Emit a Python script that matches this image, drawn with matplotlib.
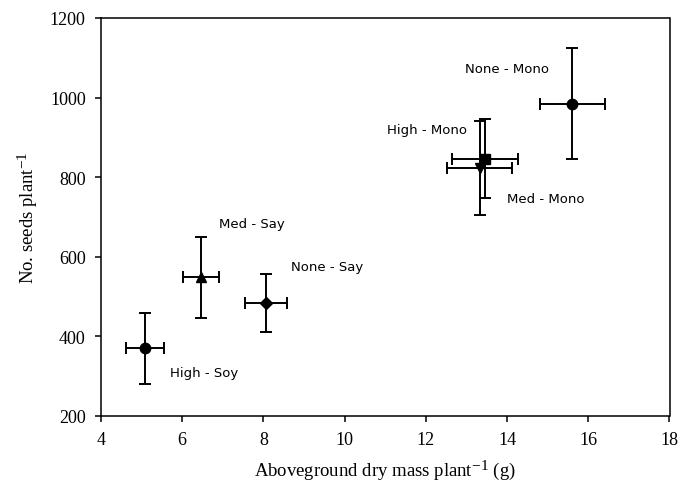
import matplotlib as mpl
mpl.use("Agg")
import matplotlib.pyplot as plt
import matplotlib._mathtext as mathtext_internal

mpl.rcParams.update({
    "font.family": "serif",
    "font.serif": ["Liberation Serif", "DejaVu Serif"],
    "mathtext.fontset": "custom",
    "mathtext.rm": "Liberation Serif",
    "mathtext.it": "Liberation Serif:italic",
    "font.size": 13,
    "axes.linewidth": 1.1,
})
# the original draws the "-1" superscripts nearly full size
mathtext_internal.SHRINK_FACTOR = 0.82

# treatment labels, means and standard errors
labels = ["High - Soy", "Med - Say", "None - Say", "None - Mono", "High - Mono", "Med - Mono"]
dry_mass = [5.08, 6.46, 8.06, 15.61, 13.46, 13.33]
dry_mass_err = [0.47, 0.45, 0.52, 0.79, 0.82, 0.80]
seeds = [370, 548, 484, 985, 846, 823]
seeds_err = [90, 101, 74, 140, 99, 118]
markers = ["o", "^", "D", "o", "s", "v"]
marker_sizes = [7.5, 7, 6.5, 7.5, 7, 7.5]
# label offsets from the point, in pixels
label_offsets = [(59, -24), (51, 54), (61, 36), (-65, 35), (-58, 29), (66, -30)]

fig = plt.figure(figsize=(6.78, 4.89), dpi=100)
ax = fig.add_axes([101 / 678, 1 - 417 / 489, 568.5 / 678, 398 / 489])

for i in range(len(labels)):
    ax.errorbar(dry_mass[i], seeds[i], xerr=dry_mass_err[i], yerr=seeds_err[i],
                fmt=markers[i], color="black", markersize=marker_sizes[i],
                ecolor="black", elinewidth=1.4, capsize=4.5, capthick=1.4)
    ax.annotate(labels[i], (dry_mass[i], seeds[i]), xytext=label_offsets[i],
                textcoords="offset pixels", ha="center", va="center",
                fontsize=9.5, family="DejaVu Sans")

ax.set_xlim(4, 18)
ax.set_ylim(200, 1200)
ax.set_xticks(range(4, 19, 2))
ax.set_yticks(range(200, 1201, 200))
ax.tick_params(direction="out", length=4, width=1.1, labelsize=13, pad=7)
ax.set_xlabel(r"Aboveground dry mass plant$^{\mathrm{-1}}$ (g)", fontsize=13.5, labelpad=7)
ax.set_ylabel(r"No. seeds plant$^{\mathrm{-1}}$", fontsize=13.5, labelpad=7)

fig.savefig("out.png", dpi=100)
